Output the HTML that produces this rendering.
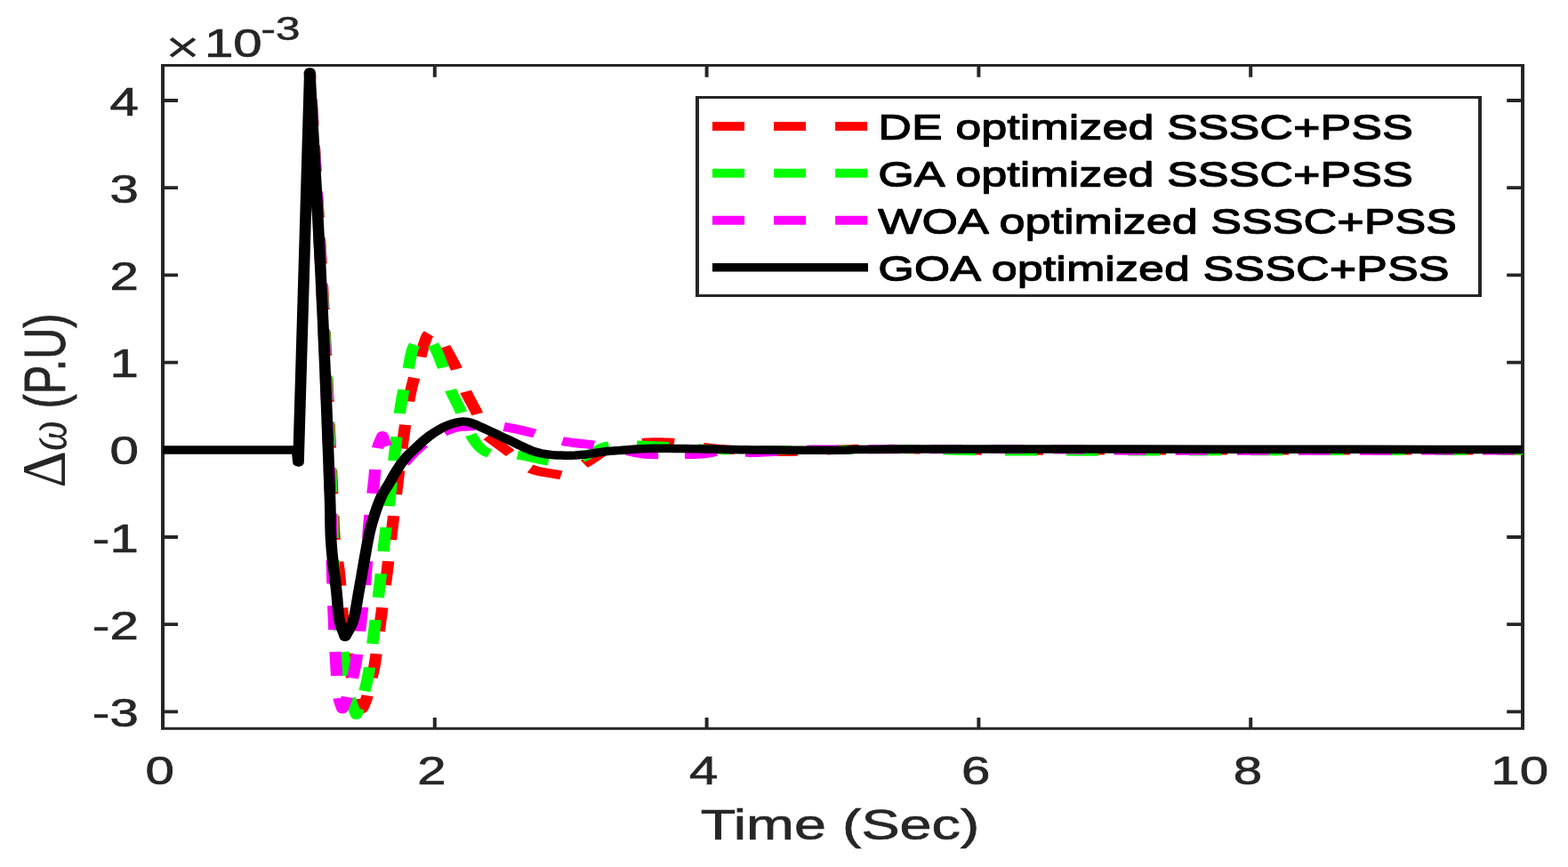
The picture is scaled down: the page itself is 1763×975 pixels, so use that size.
<!DOCTYPE html>
<html><head><meta charset="utf-8"><title>Delta omega response</title>
<style>html,body{margin:0;padding:0;background:#fff;}svg{display:block;}</style></head>
<body>
<svg width="1763" height="975" viewBox="0 0 1763 975">
<defs><filter id="thk" x="-2%" y="-10%" width="104%" height="120%"><feOffset dy="0.8" result="o"/><feMerge><feMergeNode in="o"/><feMergeNode in="SourceGraphic"/></feMerge></filter></defs>
<rect width="1763" height="975" fill="#fff"/>
<g transform="scale(1.333333,1)" font-family="Liberation Sans, Arial, sans-serif">
<rect x="137.25" y="73.5" width="1146.75" height="745.8" fill="none" stroke="#262626" stroke-width="3"/>
<path d="M137.25,819.30V807.00M137.25,73.50V86.80M366.60,819.30V807.00M366.60,73.50V86.80M595.95,819.30V807.00M595.95,73.50V86.80M825.30,819.30V807.00M825.30,73.50V86.80M1054.65,819.30V807.00M1054.65,73.50V86.80M1284.00,819.30V807.00M1284.00,73.50V86.80" stroke="#262626" stroke-width="3" fill="none"/><path d="M137.25,800.40h12.75M1284.00,800.40h-13.35M137.25,702.20h12.75M1284.00,702.20h-13.35M137.25,604.00h12.75M1284.00,604.00h-13.35M137.25,505.80h12.75M1284.00,505.80h-13.35M137.25,407.60h12.75M1284.00,407.60h-13.35M137.25,309.40h12.75M1284.00,309.40h-13.35M137.25,211.20h12.75M1284.00,211.20h-13.35M137.25,113.00h12.75M1284.00,113.00h-13.35" stroke="#262626" stroke-width="3.8" fill="none"/>
<g fill="none" stroke-width="10" stroke-linejoin="round" stroke-linecap="butt">
<path d="M261.23,81.00 L262.62,112.19 L264.04,143.48 L265.47,174.81 L266.89,206.12 L268.30,237.35 L269.67,268.44 L270.99,299.35 L272.25,330.00 L273.43,360.33 L274.61,392.06 L275.77,424.27 L276.88,456.03 L277.93,486.41 L278.90,514.49 L279.76,539.32 L280.50,560.00 L280.78,568.05 L280.99,575.27 L281.17,581.81 L281.34,587.84 L281.52,593.51 L281.74,598.99 L282.01,604.43 L282.38,610.00 L282.76,614.62 L283.19,619.01 L283.68,623.24 L284.18,627.40 L284.70,631.57 L285.21,635.84 L285.69,640.29 L286.12,645.00 L286.61,651.32 L287.03,658.00 L287.42,664.96 L287.80,672.07 L288.18,679.24 L288.57,686.35 L289.01,693.31 L289.50,700.00 L289.97,705.86 L290.44,711.63 L290.92,717.32 L291.43,722.94 L291.98,728.50 L292.58,734.02 L293.25,739.52 L294.00,745.00 L294.82,750.41 L295.75,756.02 L296.74,761.69 L297.78,767.29 L298.84,772.65 L299.90,777.66 L300.91,782.15 L301.88,786.00 L302.36,787.73 L302.83,789.27 L303.30,790.66 L303.77,791.96 L304.23,793.20 L304.69,794.42 L305.16,795.68 L305.62,797.00 L306.05,795.66 L306.47,794.35 L306.90,793.07 L307.33,791.78 L307.75,790.45 L308.17,789.06 L308.59,787.59 L309.00,786.00 L309.60,783.40 L310.20,780.49 L310.80,777.37 L311.37,774.22" stroke="#ff0000" stroke-dasharray="27.0 24.8" stroke-dashoffset="18.46"/>
<path d="M311.37,774.22 L311.38,774.14 L311.96,770.88 L312.50,767.71 L313.02,764.72 L313.50,762.00 L313.82,760.25 L314.12,758.68 L314.40,757.22 L314.66,755.80 L314.93,754.35 L315.19,752.78 L315.46,751.02 L315.75,749.00 L316.36,744.16 L316.99,738.44 L317.65,732.04 L318.31,725.16 L318.58,722.37" stroke="#ff0000" stroke-dasharray="27.0 24.8" stroke-dashoffset="39.40"/>
<path d="M318.58,722.37 L318.99,718.01 L319.67,710.80 L320.34,703.73 L321.00,697.00 L321.65,690.54 L322.31,684.08 L322.97,677.63 L323.63,671.18 L323.71,670.36" stroke="#ff0000" stroke-dasharray="27.0 24.8" stroke-dashoffset="39.40"/>
<path d="M323.71,670.36 L324.28,664.74 L324.92,658.29 L325.56,651.85 L326.18,645.40 L326.78,638.97 L327.36,632.54 L327.94,626.11 L328.50,619.68 L328.53,619.35" stroke="#ff0000" stroke-dasharray="27.0 24.8" stroke-dashoffset="39.40"/>
<path d="M328.53,619.35 L329.06,613.26 L329.62,606.83 L330.18,600.41 L330.75,594.00 L331.31,587.62 L331.87,581.26 L332.42,574.90 L332.97,568.55 L332.99,568.35" stroke="#ff0000" stroke-dasharray="27.0 24.8" stroke-dashoffset="39.40"/>
<path d="M332.99,568.35 L333.52,562.19 L334.09,555.81 L334.66,549.42 L335.25,543.00 L335.86,536.41 L336.48,529.79 L337.10,523.14 L337.69,516.93" stroke="#ff0000" stroke-dasharray="27.0 24.8" stroke-dashoffset="39.40"/>
<path d="M337.69,516.93 L337.74,516.48 L338.38,509.83 L339.04,503.19 L339.72,496.57 L340.43,490.00 L341.11,483.55 L341.79,477.06 L342.48,470.57 L343.19,464.10 L343.22,463.80" stroke="#ff0000" stroke-dasharray="27.0 24.8" stroke-dashoffset="39.40"/>
<path d="M343.22,463.80 L343.93,457.70 L344.72,451.41 L345.57,445.26 L346.50,439.30 L347.41,434.16 L348.42,429.02 L349.49,423.93 L350.59,418.95 L351.69,414.13 L351.86,413.39" stroke="#ff0000" stroke-dasharray="27.0 24.8" stroke-dashoffset="39.40"/>
<path d="M351.86,413.39 L352.74,409.55 L353.73,405.25 L354.60,401.30 L355.10,398.90 L355.57,396.63 L356.00,394.47 L356.42,392.41 L356.83,390.45 L357.24,388.57 L357.67,386.75 L358.12,385.00 L358.46,383.71 L358.78,382.45 L359.08,381.22 L359.40,380.04 L359.75,378.92 L360.14,377.87 L360.59,376.89 L361.12,376.00 L361.63,375.36 L362.19,374.79 L362.79,374.28 L363.43,373.81 L364.08,373.37 L364.73,372.93 L365.38,372.48 L366.00,372.00 L367.13,374.23 L368.26,376.42 L369.39,378.61 L369.53,378.87" stroke="#ff0000" stroke-dasharray="27.0 24.8" stroke-dashoffset="39.40"/>
<path d="M369.53,378.87 L370.52,380.80 L371.65,383.01 L372.77,385.27 L373.89,387.59 L375.00,390.00 L376.28,392.89 L377.57,395.88 L378.87,398.95 L380.15,402.08 L381.41,405.25 L382.64,408.44 L383.84,411.63 L384.97,414.80 L386.04,417.98 L387.04,421.19 L387.99,424.43 L388.92,427.68 L389.16,428.54" stroke="#ff0000" stroke-dasharray="27.0 24.8" stroke-dashoffset="39.40"/>
<path d="M389.16,428.54 L389.84,430.91 L390.77,434.12 L391.74,437.29 L392.78,440.40 L393.81,443.27 L394.88,446.07 L395.98,448.82 L397.09,451.55 L398.22,454.29 L399.34,457.06 L400.45,459.89 L401.55,462.80 L402.74,466.12 L403.93,469.52 L405.11,472.99 L406.29,476.50 L407.07,478.84" stroke="#ff0000" stroke-dasharray="27.0 24.8" stroke-dashoffset="39.40"/>
<path d="M407.07,478.84 L407.47,480.03 L408.64,483.57 L409.82,487.10 L411.00,490.60 L413.18,492.73 L415.36,494.85 L417.53,496.96 L419.71,499.07 L421.89,501.20 L424.08,503.34 L426.27,505.50 L428.47,507.70 L430.76,510.13 L432.98,512.71 L435.18,515.36 L437.41,518.01 L438.09,518.77" stroke="#ff0000" stroke-dasharray="27.0 24.8" stroke-dashoffset="39.40"/>
<path d="M438.09,518.77 L439.69,520.57 L442.07,522.98 L444.60,525.15 L447.30,527.00 L450.22,528.50 L453.33,529.69 L456.58,530.65 L459.93,531.45 L463.34,532.15 L466.76,532.83 L470.15,533.56 L473.47,534.40 L476.18,532.62 L478.89,530.86 L481.61,529.11 L482.28,528.67" stroke="#ff0000" stroke-dasharray="27.0 24.8" stroke-dashoffset="39.40"/>
<path d="M482.28,528.67 L484.33,527.35 L487.04,525.58 L489.72,523.77 L492.38,521.92 L495.00,520.00 L497.62,517.90 L500.22,515.61 L502.79,513.22 L505.35,510.82 L507.87,508.51 L510.37,506.37 L512.83,504.50 L515.25,503.00 L516.99,502.14 L518.70,501.44 L520.40,500.86 L522.08,500.38 L523.74,499.98 L525.41,499.64 L527.08,499.32 L528.75,499.00 L529.18,498.93" stroke="#ff0000" stroke-dasharray="27.0 24.8" stroke-dashoffset="39.40"/>
<path d="M529.18,498.93 L530.35,498.72 L531.94,498.50 L533.52,498.33 L535.11,498.20 L536.70,498.09 L538.29,497.99 L539.89,497.90 L541.50,497.80 L543.17,497.69 L544.85,497.59 L546.53,497.51 L548.22,497.43 L549.92,497.37 L551.62,497.32 L553.31,497.30 L555.00,497.30 L556.71,497.32 L558.44,497.35 L560.19,497.39 L561.93,497.46 L563.65,497.55 L565.33,497.66 L566.95,497.81 L568.50,498.00 L569.68,498.18 L570.76,498.40 L571.78,498.63 L572.79,498.89 L573.82,499.15 L574.92,499.43 L576.13,499.72 L577.50,500.00 L580.36,500.56 L583.60,501.18 L587.16,501.85 L590.98,502.53 L594.98,503.22 L599.11,503.87 L603.31,504.47 L607.50,505.00 L612.83,505.58 L618.43,506.11 L624.25,506.59 L630.20,507.01 L633.22,507.19" stroke="#ff0000" stroke-dasharray="27.0 24.8" stroke-dashoffset="39.40"/>
<path d="M633.22,507.19 L636.22,507.37 L642.24,507.66 L648.19,507.87 L654.00,508.00 L659.60,508.03 L665.31,507.95 L671.04,507.80 L676.73,507.58 L682.29,507.33 L687.66,507.05 L692.75,506.76 L697.50,506.50 L700.64,506.30 L703.57,506.07 L706.33,505.83 L709.01,505.58 L711.65,505.34 L714.32,505.13 L717.08,504.94 L720.00,504.80 L723.57,504.69 L727.30,504.63 L731.12,504.61 L735.00,504.62 L738.87,504.65 L742.70,504.70 L746.43,504.75 L750.00,504.80 L752.97,504.85 L755.85,504.92 L758.67,505.01 L761.45,505.10 L764.20,505.19 L766.95,505.28 L769.71,505.35 L772.50,505.40 L775.29,505.42 L778.05,505.42 L780.80,505.40 L783.55,505.38 L786.33,505.36 L789.15,505.35 L792.03,505.36 L795.00,505.40 L798.45,505.49 L801.88,505.63 L805.34,505.80 L808.89,505.98 L812.57,506.16 L816.45,506.34 L820.57,506.49 L825.00,506.60 L832.76,506.71 L841.37,506.77 L850.65,506.77 L860.39,506.75 L870.39,506.71 L880.46,506.66 L890.39,506.62 L900.00,506.60 L909.03,506.59 L917.56,506.58 L925.88,506.57 L934.31,506.55 L943.14,506.54 L952.67,506.52 L963.19,506.51 L975.00,506.50 L1003.57,506.49 L1037.48,506.48 L1075.49,506.48 L1116.37,506.48 L1158.89,506.49 L1201.83,506.49 L1243.94,506.50 L1284.00,506.50" stroke="#ff0000" stroke-dasharray="27.0 24.8" stroke-dashoffset="39.40"/>
<path d="M261.23,81.00 L262.58,112.19 L263.97,143.48 L265.36,174.81 L266.75,206.11 L268.12,237.35 L269.46,268.44 L270.74,299.35 L271.95,330.00 L273.08,360.00 L274.21,390.92 L275.31,422.13 L276.37,452.99 L277.36,482.84 L278.27,511.06 L279.07,536.99 L279.75,560.00 L280.07,572.10 L280.32,583.34 L280.53,593.85 L280.71,603.75 L280.89,613.19 L281.09,622.29 L281.33,631.18 L281.62,640.00 L281.89,646.87 L282.16,653.54 L282.45,660.00 L282.75,666.29 L283.07,672.42 L283.43,678.41 L283.82,684.26 L284.25,690.00 L284.65,694.74 L285.08,699.39 L285.54,703.96 L286.01,708.43 L286.50,712.78 L287.00,717.00 L287.50,721.08 L288.00,725.00 L288.39,727.90 L288.80,730.60 L289.20,733.17 L289.61,735.69 L290.02,738.21 L290.43,740.81 L290.83,743.55 L291.23,746.50 L291.71,750.87 L292.14,755.66 L292.54,760.73 L292.94,765.92 L293.38,771.09 L293.54,772.75" stroke="#00ff00" stroke-dasharray="27.0 24.8" stroke-dashoffset="20.48"/>
<path d="M293.54,772.75 L293.87,776.09 L294.44,780.77 L295.12,785.00 L295.69,787.71 L296.31,790.25 L296.97,792.64 L297.66,794.94 L298.36,797.19 L299.07,799.42 L299.77,801.67 L300.45,804.00 L301.10,801.64 L301.77,799.29 L302.44,796.94 L303.10,794.60 L303.76,792.24 L304.41,789.86 L304.57,789.21" stroke="#00ff00" stroke-dasharray="27.0 24.8" stroke-dashoffset="39.40"/>
<path d="M304.57,789.21 L305.03,787.45 L305.62,785.00 L306.23,782.40 L306.81,779.85 L307.37,777.30 L307.92,774.71 L308.44,772.03 L308.96,769.21 L309.47,766.22 L309.98,763.00 L310.73,757.56 L311.45,751.56 L312.14,745.13 L312.81,738.39 L313.00,736.34" stroke="#00ff00" stroke-dasharray="27.0 24.8" stroke-dashoffset="39.40"/>
<path d="M313.00,736.34 L313.46,731.47 L314.11,724.52 L314.74,717.65 L315.38,711.00 L316.00,704.52 L316.61,698.04 L317.22,691.57 L317.81,685.09 L317.87,684.40" stroke="#00ff00" stroke-dasharray="27.0 24.8" stroke-dashoffset="39.40"/>
<path d="M317.87,684.40 L318.39,678.62 L318.97,672.14 L319.54,665.67 L320.10,659.20 L320.65,652.72 L321.18,646.22 L321.70,639.70 L322.21,633.19 L322.28,632.42" stroke="#00ff00" stroke-dasharray="27.0 24.8" stroke-dashoffset="39.40"/>
<path d="M322.28,632.42 L322.73,626.71 L323.24,620.27 L323.77,613.90 L324.30,607.60 L324.81,601.80 L325.33,596.12 L325.85,590.52 L326.38,584.95 L326.71,581.46" stroke="#00ff00" stroke-dasharray="27.0 24.8" stroke-dashoffset="39.40"/>
<path d="M326.71,581.46 L326.91,579.36 L327.44,573.70 L327.97,567.93 L328.50,562.00 L329.09,555.12 L329.68,548.04 L330.27,540.83 L330.86,533.52 L331.11,530.48" stroke="#00ff00" stroke-dasharray="27.0 24.8" stroke-dashoffset="39.40"/>
<path d="M331.11,530.48 L331.45,526.19 L332.06,518.89 L332.67,511.67 L333.30,504.60 L333.90,497.95 L334.49,491.30 L335.09,484.68 L335.70,478.10 L335.76,477.41" stroke="#00ff00" stroke-dasharray="27.0 24.8" stroke-dashoffset="39.40"/>
<path d="M335.76,477.41 L336.32,471.61 L336.98,465.22 L337.67,458.98 L338.40,452.90 L339.08,447.74 L339.79,442.64 L340.53,437.63 L341.30,432.71 L342.07,427.90 L342.32,426.42" stroke="#00ff00" stroke-dasharray="27.0 24.8" stroke-dashoffset="39.40"/>
<path d="M342.32,426.42 L342.85,423.20 L343.63,418.63 L344.40,414.20 L344.98,410.58 L345.49,406.96 L345.98,403.38 L346.48,399.91 L347.04,396.58 L347.70,393.45 L348.50,390.58 L349.50,388.00 L350.31,386.43 L351.22,385.04 L352.19,383.77 L353.22,382.59 L354.27,381.46 L355.32,380.35 L356.37,379.20 L357.38,378.00 L357.47,378.12" stroke="#00ff00" stroke-dasharray="27.0 24.8" stroke-dashoffset="39.40"/>
<path d="M357.47,378.12 L358.36,379.18 L359.36,380.31 L360.37,381.41 L361.38,382.53 L362.37,383.69 L363.34,384.93 L364.28,386.29 L365.18,387.80 L366.39,390.28 L367.54,393.05 L368.63,396.07 L369.67,399.26 L370.67,402.55 L371.63,405.88 L372.57,409.19 L373.50,412.40 L374.40,415.64 L375.22,418.93 L376.00,422.25 L376.76,425.58 L376.98,426.58" stroke="#00ff00" stroke-dasharray="27.0 24.8" stroke-dashoffset="39.40"/>
<path d="M376.98,426.58 L377.51,428.90 L378.29,432.19 L379.12,435.43 L380.03,438.60 L380.94,441.48 L381.90,444.29 L382.90,447.04 L383.93,449.77 L384.97,452.50 L386.01,455.27 L387.04,458.09 L388.05,461.00 L389.11,464.38 L390.10,467.90 L391.07,471.51 L392.05,475.15 L392.64,477.24" stroke="#00ff00" stroke-dasharray="27.0 24.8" stroke-dashoffset="39.40"/>
<path d="M392.64,477.24 L393.07,478.76 L394.18,482.30 L395.42,485.70 L396.83,488.90 L398.18,491.72 L399.55,494.58 L400.98,497.39 L402.51,500.10 L404.16,502.64 L405.98,504.95 L408.00,506.96 L410.25,508.60 L412.94,509.82 L415.95,510.54 L419.21,510.89 L422.63,511.00 L424.13,511.00" stroke="#00ff00" stroke-dasharray="27.0 24.8" stroke-dashoffset="39.40"/>
<path d="M424.13,511.00 L426.15,510.99 L429.68,511.01 L433.16,511.17 L436.50,511.60 L439.81,512.32 L443.19,513.20 L446.58,514.18 L449.95,515.21 L453.26,516.21 L456.46,517.13 L459.51,517.92 L462.38,518.50 L464.30,518.78 L466.12,518.98 L467.87,519.12 L469.56,519.21 L471.22,519.27 L472.87,519.33 L474.54,519.40 L476.25,519.50 L477.83,519.10 L478.76,518.89" stroke="#00ff00" stroke-dasharray="27.0 24.8" stroke-dashoffset="39.40"/>
<path d="M478.76,518.89 L479.38,518.75 L480.93,518.43 L482.48,518.09 L484.05,517.71 L485.65,517.26 L487.29,516.70 L489.00,516.00 L491.52,514.66 L494.19,512.92 L496.95,510.92 L499.78,508.80 L502.61,506.71 L505.42,504.78 L508.14,503.17 L510.75,502.00 L512.62,501.44 L514.46,501.05 L516.27,500.81 L518.05,500.68 L519.82,500.61 L521.56,500.59 L523.29,500.56 L524.63,500.51" stroke="#00ff00" stroke-dasharray="27.0 24.8" stroke-dashoffset="39.40"/>
<path d="M524.63,500.51 L525.00,500.50 L526.54,500.43 L528.05,500.39 L529.53,500.38 L531.00,500.38 L532.47,500.40 L533.95,500.43 L535.46,500.46 L537.00,500.50 L538.69,500.55 L540.38,500.61 L542.07,500.69 L543.78,500.77 L545.54,500.87 L547.36,500.97 L549.25,501.08 L551.25,501.20 L554.12,501.37 L557.15,501.56 L560.31,501.76 L563.59,501.97 L566.97,502.21 L570.43,502.46 L573.94,502.72 L577.50,503.00 L581.87,503.39 L586.41,503.86 L591.07,504.37 L595.83,504.90 L600.64,505.40 L605.46,505.86 L610.26,506.23 L615.00,506.50 L619.62,506.64 L624.16,506.69 L628.67,506.67 L633.20,506.59 L637.79,506.48 L642.51,506.36 L647.39,506.26 L652.50,506.20 L659.65,506.16 L667.63,506.12 L676.06,506.08 L684.59,506.05 L692.86,506.00 L700.51,505.95 L707.18,505.89 L712.50,505.80 L714.27,505.75 L715.72,505.70 L716.97,505.65 L718.11,505.59 L719.25,505.54 L720.50,505.49 L721.96,505.44 L723.75,505.40 L729.60,505.31 L737.29,505.21 L746.21,505.12 L755.74,505.05 L765.26,505.03 L774.14,505.07 L781.76,505.19 L787.50,505.40 L789.13,505.52 L790.39,505.66 L791.40,505.81 L792.33,505.98 L793.30,506.14 L794.48,506.31 L796.00,506.46 L798.00,506.60 L824.15,507.28 L868.67,507.60 L927.30,507.64 L995.81,507.49 L1069.98,507.22 L1145.56,506.93 L1218.31,506.70 L1284.00,506.60" stroke="#00ff00" stroke-dasharray="27.0 24.8" stroke-dashoffset="39.40"/>
<path d="M261.23,81.00 L262.55,112.19 L263.91,143.48 L265.28,174.81 L266.64,206.11 L267.98,237.35 L269.27,268.44 L270.50,299.35 L271.65,330.00 L272.70,360.00 L273.73,390.92 L274.73,422.13 L275.67,452.98 L276.55,482.84 L277.34,511.06 L278.04,536.99 L278.62,560.00 L278.90,572.05 L279.13,583.17 L279.32,593.53 L279.48,603.30 L279.63,612.66 L279.78,621.78 L279.94,630.83 L280.12,640.00 L280.30,647.96 L280.48,655.79 L280.65,663.47 L280.83,671.02 L281.02,678.44 L281.21,685.74 L281.41,692.92 L281.62,700.00 L281.82,706.13 L282.01,712.15 L282.20,718.07 L282.40,723.90 L282.62,729.65 L282.84,735.32 L283.09,740.94 L283.35,746.50 L283.59,751.63 L283.81,756.88 L284.04,762.14 L284.28,767.31 L284.56,772.29 L284.58,772.66" stroke="#ff00ff" stroke-dasharray="27.0 24.8" stroke-dashoffset="21.02"/>
<path d="M284.58,772.66 L284.88,776.96 L285.27,781.23 L285.75,785.00 L286.07,786.90 L286.42,788.63 L286.79,790.21 L287.18,791.69 L287.57,793.13 L287.97,794.54 L288.37,795.99 L288.75,797.50 L289.22,795.98 L289.68,794.53 L290.14,793.11 L290.60,791.67 L291.07,790.18 L291.54,788.60 L292.01,786.88 L292.50,785.00 L293.35,781.45 L294.26,777.49 L294.85,774.74" stroke="#ff00ff" stroke-dasharray="27.0 24.8" stroke-dashoffset="39.40"/>
<path d="M294.85,774.74 L295.19,773.18 L296.13,768.61 L297.06,763.83 L297.95,758.93 L298.79,753.96 L299.55,749.00 L300.35,742.97 L301.07,736.69 L301.72,730.22 L302.31,723.62 L302.43,722.16" stroke="#ff00ff" stroke-dasharray="27.0 24.8" stroke-dashoffset="39.40"/>
<path d="M302.43,722.16 L302.87,716.93 L303.41,710.23 L303.95,703.57 L304.50,697.00 L305.07,690.51 L305.63,684.03 L306.18,677.55 L306.72,671.07 L306.78,670.30" stroke="#ff00ff" stroke-dasharray="27.0 24.8" stroke-dashoffset="39.40"/>
<path d="M306.78,670.30 L307.24,664.58 L307.73,658.07 L308.20,651.55 L308.62,645.00 L309.00,638.28 L309.32,631.52 L309.59,624.72 L309.83,618.37" stroke="#ff00ff" stroke-dasharray="27.0 24.8" stroke-dashoffset="39.40"/>
<path d="M309.83,618.37 L309.84,617.91 L310.10,611.11 L310.38,604.35 L310.71,597.64 L311.10,591.00 L311.55,584.68 L312.06,578.36 L312.61,572.05 L313.04,567.34" stroke="#ff00ff" stroke-dasharray="27.0 24.8" stroke-dashoffset="39.40"/>
<path d="M313.04,567.34 L313.18,565.79 L313.76,559.60 L314.33,553.51 L314.87,547.53 L315.38,541.70 L315.75,536.62 L316.07,531.48 L316.35,526.37 L316.64,521.37 L316.95,516.55 L316.97,516.31" stroke="#ff00ff" stroke-dasharray="27.0 24.8" stroke-dashoffset="39.40"/>
<path d="M316.97,516.31 L317.33,511.99 L317.79,507.78 L318.38,504.00 L318.81,501.90 L319.28,499.99 L319.79,498.22 L320.33,496.55 L320.88,494.93 L321.43,493.33 L321.97,491.70 L322.50,490.00 L323.02,491.75 L323.49,493.50 L323.93,495.25 L324.38,497.00 L324.88,498.75 L325.46,500.50 L326.15,502.25 L327.00,504.00 L328.27,506.13 L329.76,508.25 L331.42,510.38 L332.83,512.06" stroke="#ff00ff" stroke-dasharray="27.0 24.8" stroke-dashoffset="39.40"/>
<path d="M332.83,512.06 L333.20,512.50 L335.05,514.63 L336.92,516.75 L338.75,518.88 L340.50,521.00 L341.89,519.05 L343.26,517.07 L344.63,515.08 L346.01,513.10 L347.39,511.14 L348.79,509.21 L350.22,507.32 L351.68,505.50 L353.08,503.81 L354.50,502.14 L355.93,500.50 L357.38,498.89 L358.85,497.33 L360.35,495.82 L361.88,494.37 L363.45,493.00 L364.11,492.46" stroke="#ff00ff" stroke-dasharray="27.0 24.8" stroke-dashoffset="39.40"/>
<path d="M364.11,492.46 L364.98,491.76 L366.57,490.56 L368.18,489.41 L369.82,488.31 L371.47,487.27 L373.10,486.28 L374.71,485.36 L376.28,484.50 L377.55,483.82 L378.81,483.18 L380.06,482.58 L381.30,482.02 L382.53,481.50 L383.76,481.04 L385.00,480.64 L386.25,480.30 L387.42,480.05 L388.57,479.89 L389.72,479.78 L390.88,479.71 L392.05,479.67 L393.25,479.63 L394.49,479.58 L395.78,479.50 L397.44,479.36 L399.18,479.19 L400.98,479.02 L402.82,478.85 L404.68,478.69 L406.55,478.58 L408.41,478.51 L410.25,478.50 L412.07,478.54 L412.72,478.57" stroke="#ff00ff" stroke-dasharray="27.0 24.8" stroke-dashoffset="39.40"/>
<path d="M412.72,478.57 L413.85,478.62 L415.62,478.73 L417.40,478.88 L419.21,479.08 L421.07,479.33 L423.00,479.63 L425.03,480.00 L427.89,480.60 L430.93,481.34 L434.10,482.19 L437.36,483.12 L440.66,484.11 L443.96,485.14 L447.21,486.17 L450.38,487.20 L453.39,488.25 L456.37,489.38 L459.32,490.57 L462.26,491.76 L462.54,491.88" stroke="#ff00ff" stroke-dasharray="27.0 24.8" stroke-dashoffset="39.40"/>
<path d="M462.54,491.88 L465.20,492.94 L468.16,494.07 L471.17,495.10 L474.22,496.00 L477.42,496.77 L480.66,497.42 L483.95,497.97 L487.26,498.46 L490.57,498.93 L493.88,499.40 L497.16,499.91 L500.40,500.50 L503.54,501.14 L506.71,501.80 L509.87,502.49 L513.01,503.19 L516.11,503.90 L516.55,504.00" stroke="#ff00ff" stroke-dasharray="27.0 24.8" stroke-dashoffset="39.40"/>
<path d="M516.55,504.00 L519.15,504.61 L522.12,505.31 L525.00,506.00 L527.34,506.61 L529.57,507.25 L531.73,507.90 L533.85,508.55 L535.99,509.16 L538.17,509.72 L540.44,510.21 L542.85,510.60 L545.98,510.93 L549.29,511.12 L552.74,511.21 L556.25,511.21 L559.80,511.17 L563.30,511.10 L565.10,511.06" stroke="#ff00ff" stroke-dasharray="27.0 24.8" stroke-dashoffset="39.40"/>
<path d="M565.10,511.06 L566.72,511.03 L570.00,511.00 L572.79,511.01 L575.53,511.03 L578.21,511.05 L580.87,511.05 L583.49,511.03 L586.10,510.95 L588.70,510.81 L591.30,510.60 L593.82,510.27 L596.31,509.80 L598.77,509.25 L601.22,508.67 L603.68,508.10 L606.16,507.60 L608.68,507.22 L611.25,507.00 L614.02,506.99 L616.78,507.16 L619.55,507.47 L622.35,507.86 L625.23,508.26 L628.19,508.62 L631.27,508.89 L634.50,509.00 L639.01,508.91 L643.79,508.62 L648.77,508.20 L653.91,507.70 L659.16,507.16 L664.46,506.65 L669.76,506.21 L675.00,505.90 L680.30,505.70 L685.38,505.57 L690.38,505.49 L695.47,505.45 L700.82,505.44 L706.58,505.44 L712.92,505.43 L720.00,505.40 L737.68,505.31 L759.71,505.23 L784.62,505.16 L810.90,505.11 L837.07,505.10 L861.64,505.14 L883.11,505.23 L900.00,505.40 L905.77,505.51 L910.46,505.64 L914.45,505.79 L918.13,505.94 L921.89,506.10 L926.12,506.25 L931.19,506.38 L937.50,506.50 L964.07,506.74 L999.52,506.85 L1041.81,506.87 L1088.88,506.81 L1138.68,506.72 L1189.17,506.62 L1238.30,506.53 L1284.00,506.50" stroke="#ff00ff" stroke-dasharray="27.0 24.8" stroke-dashoffset="39.40"/>
<path d="M137.25,506.00 L250.50,506.00 L251.62,520.00 L261.23,81.00 L262.50,112.19 L263.80,143.48 L265.12,174.81 L266.43,206.11 L267.71,237.35 L268.96,268.44 L270.15,299.35 L271.27,330.00 L272.32,360.30 L273.35,391.97 L274.36,424.10 L275.32,455.79 L276.21,486.13 L277.01,514.21 L277.70,539.14 L278.25,560.00 L278.44,568.27 L278.56,575.59 L278.64,582.20 L278.70,588.30 L278.78,594.11 L278.90,599.85 L279.09,605.74 L279.38,612.00 L279.77,618.63 L280.26,625.37 L280.81,632.16 L281.41,638.93 L282.03,645.61 L282.63,652.14 L283.21,658.46 L283.73,664.50 L284.08,669.24 L284.37,673.91 L284.64,678.49 L284.90,682.95 L285.20,687.25 L285.54,691.38 L285.97,695.31 L286.50,699.00 L286.96,701.49 L287.48,703.81 L288.03,706.02 L288.62,708.14 L289.22,710.21 L289.83,712.27 L290.42,714.36 L291.00,716.50 L291.82,714.41 L292.66,712.38 L293.52,710.38 L294.36,708.37 L295.20,706.30 L295.99,704.15 L296.75,701.86 L297.45,699.40 L298.32,695.66 L299.08,691.59 L299.76,687.26 L300.39,682.76 L300.97,678.16 L301.54,673.53 L302.11,668.95 L302.70,664.50 L303.30,660.14 L303.89,655.75 L304.46,651.37 L305.02,646.98 L305.58,642.61 L306.14,638.26 L306.70,633.96 L307.28,629.70 L307.82,625.66 L308.36,621.59 L308.90,617.51 L309.44,613.48 L309.99,609.52 L310.54,605.68 L311.11,601.99 L311.70,598.50 L312.16,595.96 L312.61,593.56 L313.06,591.27 L313.52,589.04 L314.00,586.84 L314.50,584.62 L315.03,582.36 L315.60,580.00 L316.28,577.25 L316.99,574.40 L317.74,571.49 L318.52,568.56 L319.33,565.66 L320.17,562.83 L321.02,560.13 L321.90,557.60 L322.63,555.69 L323.39,553.88 L324.17,552.15 L324.97,550.47 L325.77,548.81 L326.56,547.16 L327.35,545.50 L328.12,543.80 L328.87,542.08 L329.60,540.35 L330.32,538.62 L331.03,536.89 L331.76,535.16 L332.50,533.44 L333.26,531.72 L334.05,530.00 L334.88,528.25 L335.71,526.49 L336.55,524.74 L337.41,522.99 L338.30,521.25 L339.24,519.52 L340.22,517.80 L341.25,516.10 L342.40,514.33 L343.62,512.58 L344.89,510.83 L346.21,509.11 L347.55,507.39 L348.92,505.68 L350.30,503.99 L351.68,502.30 L353.08,500.58 L354.49,498.86 L355.93,497.13 L357.38,495.42 L358.86,493.74 L360.36,492.10 L361.89,490.52 L363.45,489.00 L364.98,487.59 L366.56,486.19 L368.18,484.82 L369.81,483.50 L371.45,482.24 L373.08,481.06 L374.69,479.98 L376.28,479.00 L377.56,478.28 L378.87,477.61 L380.19,477.00 L381.49,476.44 L382.76,475.94 L383.99,475.50 L385.16,475.12 L386.25,474.80 L386.95,474.62 L387.61,474.46 L388.24,474.33 L388.86,474.23 L389.46,474.16 L390.06,474.11 L390.66,474.09 L391.28,474.10 L391.89,474.13 L392.49,474.18 L393.08,474.26 L393.67,474.36 L394.27,474.49 L394.89,474.66 L395.54,474.86 L396.22,475.10 L397.31,475.54 L398.43,476.09 L399.60,476.71 L400.81,477.41 L402.08,478.17 L403.42,478.98 L404.81,479.83 L406.28,480.70 L408.70,482.15 L411.35,483.78 L414.17,485.55 L417.13,487.40 L420.16,489.31 L423.21,491.22 L426.25,493.10 L429.22,494.90 L432.21,496.75 L435.20,498.69 L438.21,500.66 L441.23,502.61 L444.26,504.47 L447.31,506.18 L450.37,507.67 L453.45,508.90 L456.27,509.77 L459.13,510.47 L462.01,511.01 L464.90,511.42 L467.77,511.72 L470.61,511.93 L473.39,512.09 L476.10,512.20 L478.43,512.25 L480.71,512.22 L482.96,512.13 L485.18,511.98 L487.37,511.78 L489.55,511.54 L491.72,511.28 L493.88,511.00 L495.94,510.68 L497.98,510.30 L500.01,509.87 L502.03,509.42 L504.03,508.97 L506.02,508.53 L508.01,508.13 L510.00,507.80 L511.88,507.54 L513.73,507.32 L515.56,507.13 L517.39,506.96 L519.23,506.80 L521.10,506.64 L523.02,506.48 L525.00,506.30 L527.34,506.07 L529.70,505.82 L532.09,505.56 L534.53,505.30 L537.05,505.06 L539.66,504.84 L542.39,504.65 L545.25,504.50 L549.43,504.37 L553.87,504.32 L558.54,504.32 L563.38,504.36 L568.35,504.43 L573.39,504.52 L578.46,504.62 L583.50,504.70 L589.10,504.80 L594.82,504.93 L600.64,505.08 L606.51,505.24 L612.42,505.40 L618.32,505.55 L624.19,505.69 L630.00,505.80 L635.69,505.89 L641.40,505.96 L647.11,506.02 L652.80,506.07 L658.46,506.11 L664.06,506.15 L669.58,506.17 L675.00,506.20 L680.05,506.23 L685.29,506.27 L690.57,506.31 L695.76,506.34 L700.69,506.35 L705.22,506.34 L709.21,506.29 L712.50,506.20 L713.63,506.14 L714.50,506.07 L715.21,506.00 L715.86,505.92 L716.57,505.83 L717.42,505.75 L718.53,505.67 L720.00,505.60 L747.68,505.15 L798.09,504.93 L865.96,504.89 L946.08,504.98 L1033.18,505.14 L1122.03,505.31 L1207.38,505.45 L1284.00,505.50" stroke="#000000" stroke-width="9.5"/>
</g>
<g font-size="43.6" fill="#262626" stroke="#262626" stroke-width="0.7"><text x="134.75" y="882" text-anchor="middle">0</text><text x="364.10" y="882" text-anchor="middle">2</text><text x="593.45" y="882" text-anchor="middle">4</text><text x="822.80" y="882" text-anchor="middle">6</text><text x="1052.15" y="882" text-anchor="middle">8</text><text x="1281.50" y="882" text-anchor="middle">10</text><text x="116.85" y="817.10" text-anchor="end">-3</text><text x="116.85" y="718.90" text-anchor="end">-2</text><text x="116.85" y="620.70" text-anchor="end">-1</text><text x="116.85" y="522.50" text-anchor="end">0</text><text x="116.85" y="424.30" text-anchor="end">1</text><text x="116.85" y="326.10" text-anchor="end">2</text><text x="116.85" y="227.90" text-anchor="end">3</text><text x="116.85" y="129.70" text-anchor="end">4</text></g>
<g fill="#262626">
<text x="139.50" y="70" font-size="50" >&#215;</text>
<text x="172.50" y="64" font-size="43.6" stroke="#262626" stroke-width="0.7">10</text>
<text x="220.12" y="44.9" font-size="37" stroke="#262626" stroke-width="0.6">-3</text>
</g>
<text x="708.38" y="944" text-anchor="middle" font-size="48.5" fill="#262626" stroke="#262626" stroke-width="0.7">Time (Sec)</text>
<g fill="#262626">
<text transform="translate(55.12,548.50) rotate(-90) scale(1.24,1)" font-family="Liberation Serif, serif" font-size="52">&#916;</text>
<text transform="translate(55.50,507.00) rotate(-90)" font-family="Liberation Serif, serif" font-style="italic" font-size="48.5">&#969;</text>
<text transform="translate(55.12,459.50) rotate(-90)" font-size="48.5" stroke="#262626" stroke-width="0.7">(P.U)</text>
</g>
<rect x="588.00" y="109.5" width="660.00" height="223.0" fill="#fff" stroke="#262626" stroke-width="3"/><path d="M600.75,142H732.00" stroke="#ff0000" stroke-width="10" stroke-dasharray="27.0 24.8" fill="none"/><text transform="translate(740.40,156.30) scale(0.991,1)" font-size="39.5" fill="#000" stroke="#000" stroke-width="0.7" filter="url(#thk)">DE optimized SSSC+PSS</text><path d="M600.75,194.8H732.00" stroke="#00ff00" stroke-width="10" stroke-dasharray="27.0 24.8" fill="none"/><text transform="translate(740.40,209.10) scale(0.991,1)" font-size="39.5" fill="#000" stroke="#000" stroke-width="0.7" filter="url(#thk)">GA optimized SSSC+PSS</text><path d="M600.75,247.8H732.00" stroke="#ff00ff" stroke-width="10" stroke-dasharray="27.0 24.8" fill="none"/><text transform="translate(740.40,262.10) scale(0.991,1)" font-size="39.5" fill="#000" stroke="#000" stroke-width="0.7" filter="url(#thk)">WOA optimized SSSC+PSS</text><path d="M600.75,300.8H732.00" stroke="#000000" stroke-width="9.5" fill="none"/><text transform="translate(740.40,315.10) scale(0.991,1)" font-size="39.5" fill="#000" stroke="#000" stroke-width="0.7" filter="url(#thk)">GOA optimized SSSC+PSS</text>
</g>
</svg>
</body></html>
